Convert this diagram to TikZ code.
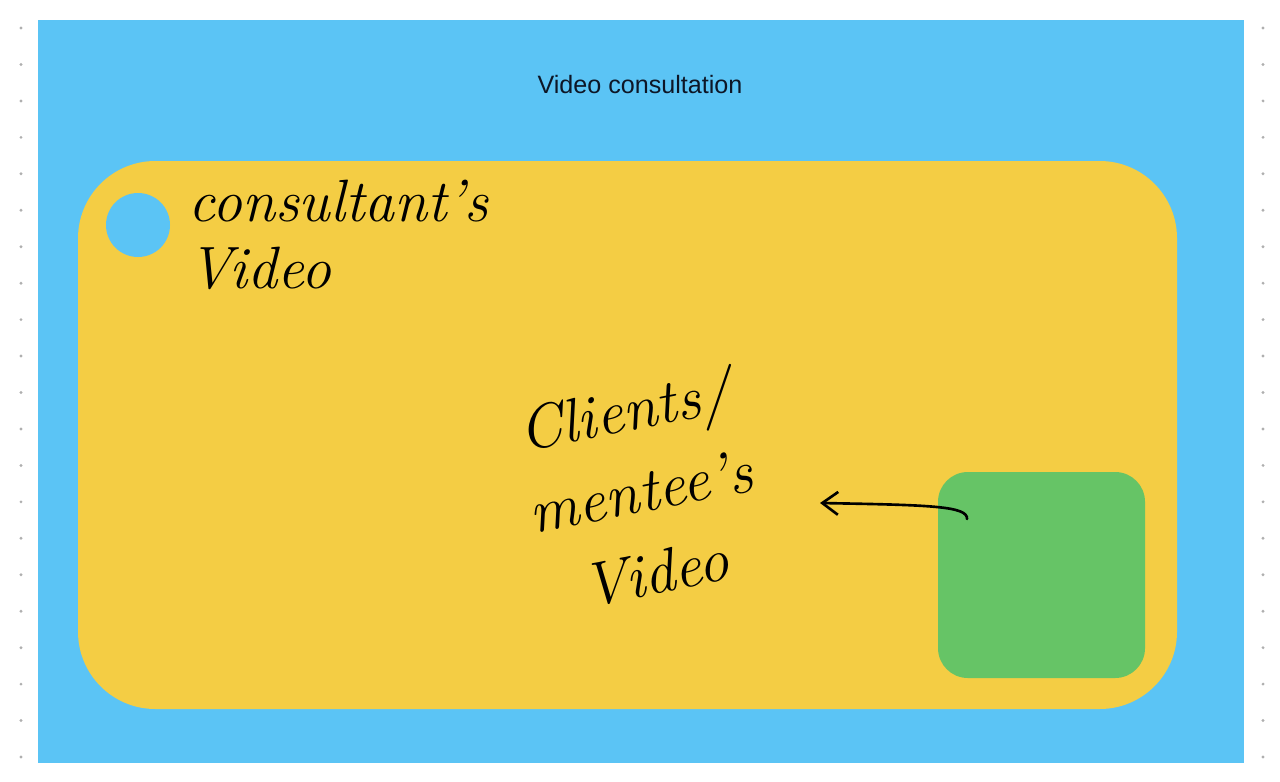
\documentclass[tikz,border=0pt]{standalone}
\usepackage{fontspec}
\setsansfont{Liberation Sans}
\usepackage{xcolor}
\usepackage{tikz}
\usetikzlibrary{arrows.meta,positioning}
\definecolor{vc_blue}{RGB}{91, 196, 245}
\definecolor{vc_yellow}{RGB}{244, 205, 68}
\definecolor{vc_green}{RGB}{102, 196, 102}
\definecolor{vc_navy}{RGB}{13, 22, 38}
\definecolor{vc_dot}{RGB}{175, 175, 175}

\begin{document}
\begin{tikzpicture}[
  x=0.02cm,y=-0.02cm,
  hand/.style={font=\fontsize{34}{38}\selectfont\itshape,text=black,inner sep=0pt},
  pane/.style={rounded corners=#1,draw=none},
  arrow/.style={-{Straight Barb[length=9pt,width=13pt]},line width=1.5pt,line cap=round}
]
\useasboundingbox (0,0) rectangle (1280,781);
% dotted grid at the edges
\foreach \k in {0,...,20}{
  \fill[vc_dot] (21,28+36.45*\k) circle (1.6);
  \fill[vc_dot] (1263,28+36.45*\k) circle (1.6);
}
% screen
\fill[vc_blue] (38,20) rectangle (1244,763);
\node[font=\sffamily\fontsize{14.3}{17}\selectfont,text=vc_navy] (title) at (640,85)
  {Video consultation};
\fill[pane=44pt,fill=vc_yellow] (78,161) rectangle (1177,709);
\node[circle,fill=vc_blue,minimum size=64*0.02cm,inner sep=0pt] (cam) at (138,225) {};
\node[hand,anchor=north west,align=left] (consult) at (188,180)
  {consultant's\\Video};
% client's video
\fill[pane=17pt,fill=vc_green] (938,472) rectangle (1145,678);
\node[hand,font=\fontsize{35}{47}\selectfont\itshape,align=center,rotate=11] (client) at (640,490)
  {Clients/\\mentee's\\Video};
\coordinate (tail) at (967,519);
\coordinate (head) at (820,503);
\draw[arrow] (tail) .. controls (968,506) and (930,505) .. (head);
\end{tikzpicture}
\end{document}
